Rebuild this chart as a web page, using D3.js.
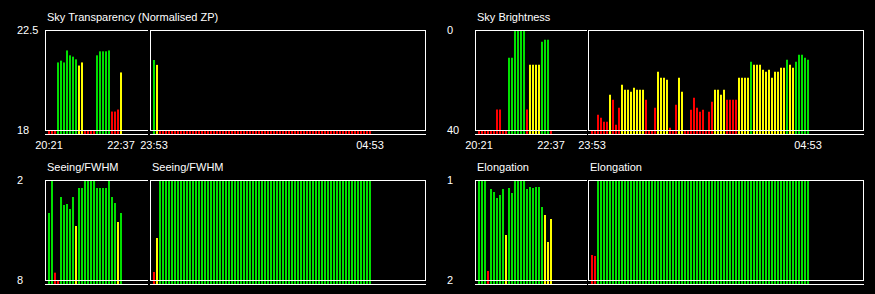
<!DOCTYPE html>
<html>
<head>
<meta charset="utf-8">
<script src="https://cdn.jsdelivr.net/npm/d3@7"></script>
<style>
  html, body { margin: 0; padding: 0; background: #000; }
  svg { display: block; }
  text { font-family: "Liberation Sans", Arial, sans-serif; font-size: 11px; fill: #fff; }
</style>
</head>
<body>
<div id="viz"></div>
<script>
// time labels (first / last frame of each block)
var leftTimes = ["20:21", "22:37"];
var rightTimes = ["23:53", "04:53"];

// quality flags: g = good, y = marginal, r = bad
// spaces are only there to make counting easier
function flags(s) { return s.replace(/ /g, "").split(""); }

// Sky Transparency (Normalised ZP)
var transTicks = [22.5, 18];
var transLeft = [18, 18, 18, 21.04, 21.12, 21.04, 21.58, 21.36, 21.3, 21.18, 20.9, 21.04, 18, 18, 18, 18,
  21.36, 21.54, 21.54, 21.54, 21.58, 18.83, 18.83, 18.92, 20.59];
var transLeftQ = flags("rrrgggggggyyrrrrgggggrrry");
var transRight = [21.15, 20.93, 18, 18, 18, 18, 18, 18, 18, 18,
  18, 18, 18, 18, 18, 18, 18, 18, 18, 18,
  18, 18, 18, 18, 18, 18, 18, 18, 18, 18,
  18, 18, 18, 18, 18, 18, 18, 18, 18, 18,
  18, 18, 18, 18, 18, 18, 18, 18, 18, 18,
  18, 18, 18, 18, 18, 18, 18, 18, 18, 18,
  18, 18, 18, 18, 18, 18, 18, 18, 18, 18,
  18, 18, 18];
var transRightQ = flags("gyrrrrrrrr rrrrrrrrrr rrrrrrrrrr rrrrrrrrrr rrrrrrrrrr rrrrrrrrrr rrrrrrrrrr rrr");

// Sky Brightness
var brightTicks = [0, 40];
var brightLeft = [40, 40, 40, 40, 40, 40, 31.8, 31.8, 40, 40, 11.1, 11.1, 0, 0, 0, 0,
  31.8, 13.9, 13.9, 13.9, 13.9, 4.7, 3.9, 3.9, 40];
var brightLeftQ = flags("rrrrrrrrrr ggggggryyy ygggr");
var brightRight = [40, 40, 33.9, 35.1, 36.7, 36.7, 25.9, 27.9, 37.9, 31.1,
  21.9, 23.9, 23.9, 24.7, 23.1, 23.9, 23.9, 23.9, 27.9, 40,
  40, 31.1, 16.7, 19.1, 19.1, 19.9, 39.1, 40, 29.9, 19.1,
  24.7, 40, 40, 31.9, 27.1, 31.1, 32.7, 31.9, 40, 32.7,
  28.7, 23.9, 23.9, 25.9, 23.9, 27.9, 27.9, 27.9, 27.9, 19.1,
  19.1, 19.1, 19.1, 12.7, 13.9, 13.9, 13.9, 15.9, 16.7, 15.9,
  19.1, 16.7, 16.7, 15.1, 15.1, 11.9, 13.9, 15.1, 12.7, 9.9,
  9.9, 11.1, 11.9];
var brightRightQ = flags("rrrrrryrrr yyyyyyyyrr rryyyyrrry yrrrrrrrrr ryyyyrrrry yyygyyyyyy yyyyygyygg ggg");

// Seeing/FWHM
var seeingTicks = [2, 8];
var seeingLeft = [3.98, 2, 7.56, 8, 3.02, 3.5, 3.44, 3.74, 3.02, 4.76, 2.48, 2.48, 2, 2, 2, 2,
  2.48, 2.48, 2.48, 2.48, 2, 3.02, 3.38, 4.52, 3.98];
var seeingLeftQ = flags("ggrrgggggy gggggggggg gggyg");
var seeingRight = [7.52, 5.48, 2, 2, 2, 2, 2, 2, 2, 2,
  2, 2, 2, 2, 2, 2, 2, 2, 2, 2,
  2, 2, 2, 2, 2, 2, 2, 2, 2, 2,
  2, 2, 2, 2, 2, 2, 2, 2, 2, 2,
  2, 2, 2, 2, 2, 2, 2, 2, 2, 2,
  2, 2, 2, 2, 2, 2, 2, 2, 2, 2,
  2, 2, 2, 2, 2, 2, 2, 2, 2, 2,
  2, 2, 2];
var seeingRightQ = flags("rygggggggg gggggggggg gggggggggg gggggggggg gggggggggg gggggggggg gggggggggg ggg");

// Elongation
var elongTicks = [1, 2];
var elongLeft = [1, 1, 1, 1.91, 1.09, 1.12, 1.18, 1.15, 1.09, 1.55, 1.08, 1.13, 1, 1, 1, 1,
  1.09, 1.07, 1.08, 1.07, 1.07, 1.27, 1.35, 1.62, 1.39];
var elongLeftQ = flags("gggrgggggy gggggggggg ggyyy");
var elongRight = [1.75, 1.76, 1, 1, 1, 1, 1, 1, 1, 1,
  1, 1, 1, 1, 1, 1, 1, 1, 1, 1,
  1, 1, 1, 1, 1, 1, 1, 1, 1, 1,
  1, 1, 1, 1, 1, 1, 1, 1, 1, 1,
  1, 1, 1, 1, 1, 1, 1, 1, 1, 1,
  1, 1, 1, 1, 1, 1, 1, 1, 1, 1,
  1, 1, 1, 1, 1, 1, 1, 1, 1, 1,
  1, 1, 1];
var elongRightQ = flags("rrgggggggg gggggggggg gggggggggg gggggggggg gggggggggg gggggggggg gggggggggg ggg");

var colours = { g: "#00e000", y: "#ffff00", r: "#ff0000" };

var svg = d3.select('#viz').append('svg')
  .attr('width', 875)
  .attr('height', 294);

// layout of the four panels
var panels = [
  { title: "Sky Transparency (Normalised ZP)", both: false, times: true,
    lx: 45, lEnd: 148, rx: 150, rEnd: 426, top: 30,
    domain: [18, 22.5], ticks: transTicks,
    left: transLeft, leftQ: transLeftQ, right: transRight, rightQ: transRightQ },
  { title: "Sky Brightness", both: false, times: true,
    lx: 475, lEnd: 587, rx: 588, rEnd: 864, top: 30,
    domain: [40, 0], ticks: brightTicks,
    left: brightLeft, leftQ: brightLeftQ, right: brightRight, rightQ: brightRightQ },
  { title: "Seeing/FWHM", both: true, times: false,
    lx: 45, lEnd: 148, rx: 150, rEnd: 426, top: 180,
    domain: [8, 2], ticks: seeingTicks,
    left: seeingLeft, leftQ: seeingLeftQ, right: seeingRight, rightQ: seeingRightQ },
  { title: "Elongation", both: true, times: false,
    lx: 475, lEnd: 587, rx: 588, rEnd: 864, top: 180,
    domain: [2, 1], ticks: elongTicks,
    left: elongLeft, leftQ: elongLeftQ, right: elongRight, rightQ: elongRightQ }
];

var boxH = 100;   // plot box height
var baseGap = 4;  // baseline sits a few px under the box

panels.forEach(function (p) {
  var g = svg.append('g');
  var bottom = p.top + boxH;
  var base = bottom + baseGap;

  var y = d3.scaleLinear().domain(p.domain).range([bottom, p.top]).clamp(true);

  // bars for one block
  function drawBars(vals, q, x0, cls) {
    var x = d3.scaleLinear().domain([0, vals.length - 1])
      .range([x0 + 3, x0 + 3 + 3 * (vals.length - 1)]);
    g.selectAll('.' + cls)
      .data(vals)
      .enter()
      .append('rect')
      .attr('class', cls)
      .attr('x', function (d, i) { return x(i); })
      .attr('y', function (d) { return y(d); })
      .attr('width', 2)
      .attr('height', function (d) { return base - y(d) + 1; })
      .attr('fill', function (d, i) { return colours[q[i]]; });
    return x;
  }

  var xl = drawBars(p.left, p.leftQ, p.lx, 'barL');
  var xr = drawBars(p.right, p.rightQ, p.rx, 'barR');

  // frames
  g.append('path')
    .attr('d', 'M' + p.lEnd + ',' + (p.top + 0.5) + 'H' + (p.lx + 0.5) +
      'V' + (bottom + 0.5) + 'H' + p.lEnd +
      'M' + p.lx + ',' + (base + 0.5) + 'H' + p.lEnd)
    .attr('fill', 'none')
    .attr('stroke', '#fff')
    .attr('shape-rendering', 'crispEdges');

  g.append('rect')
    .attr('x', p.rx + 0.5)
    .attr('y', p.top + 0.5)
    .attr('width', p.rEnd - p.rx - 1)
    .attr('height', boxH)
    .attr('fill', 'none')
    .attr('stroke', '#fff')
    .attr('shape-rendering', 'crispEdges');

  g.append('path')
    .attr('d', 'M' + p.rx + ',' + (base + 0.5) + 'H' + p.rEnd)
    .attr('stroke', '#fff')
    .attr('shape-rendering', 'crispEdges');

  // titles
  g.append('text').attr('x', p.lx + 2).attr('y', p.top - 9).text(p.title);
  if (p.both) {
    g.append('text').attr('x', p.rx + 2).attr('y', p.top - 9).text(p.title);
  }

  // y labels (top and bottom of range)
  g.selectAll('.ylab')
    .data(p.ticks)
    .enter()
    .append('text')
    .attr('class', 'ylab')
    .attr('x', p.lx - 28)
    .attr('y', function (d) { return y(d) + 0.5; })
    .attr('dy', '0.35em')
    .text(function (d) { return String(d); });

  // time labels under the top row
  if (p.times) {
    var tl = [[xl(0), leftTimes[0]], [xl(p.left.length - 1), leftTimes[1]],
              [xr(0), rightTimes[0]], [xr(p.right.length - 1), rightTimes[1]]];
    g.selectAll('.tlab')
      .data(tl)
      .enter()
      .append('text')
      .attr('class', 'tlab')
      .attr('x', function (d) { return d[0] + 1; })
      .attr('y', base + 15)
      .attr('text-anchor', 'middle')
      .text(function (d) { return d[1]; });
  }
});
</script>
</body>
</html>
